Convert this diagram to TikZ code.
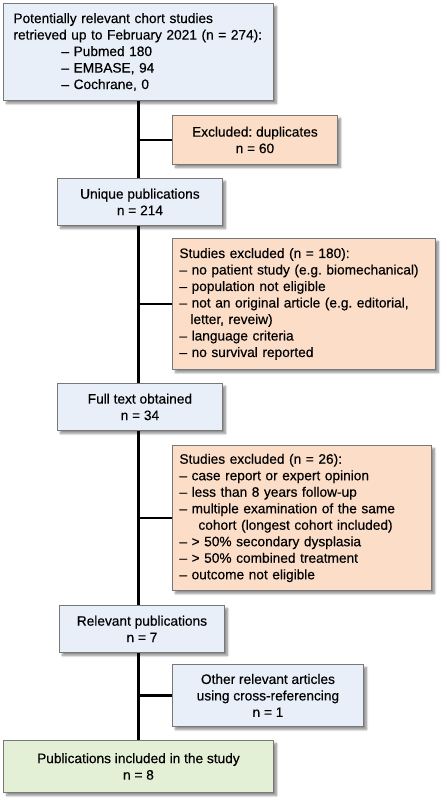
\documentclass[tikz,border=0pt]{standalone}
\usepackage{fontspec}
\setmainfont{Liberation Sans}[FakeBold=0.4]
\usetikzlibrary{positioning,calc,backgrounds,shadows.blur}
\definecolor{boxblue}{RGB}{232,239,248}
\definecolor{boxpeach}{RGB}{252,222,200}
\definecolor{boxgreen}{RGB}{228,240,214}
\definecolor{boxedge}{RGB}{120,120,120}

\tikzset{
  flowbox/.style={draw=boxedge, line width=0.9pt, anchor=north west, inner xsep=0pt, inner ysep=0pt,
    blur shadow={shadow xshift=3pt, shadow yshift=-3pt, shadow blur steps=6, shadow opacity=45},
    font=\fontsize{13.7}{16.5}\selectfont},
  bluebox/.style={flowbox, fill=boxblue, align=center},
  greenbox/.style={flowbox, fill=boxgreen, align=center},
  exclbox/.style={flowbox, fill=boxpeach, align=left},
  trunk/.style={line width=2.6pt, black},
}
\frenchspacing

\begin{document}
\begin{tikzpicture}[x=1pt, y=-1pt]
  \useasboundingbox (0,0) rectangle (447,800);
  % main boxes
  \node[bluebox, minimum width=270, minimum height=97, text width=250, align=left] (search) at (3,3)
    {Potentially relevant chort studies\\
     retrieved up to February 2021 (n = 274):\\
     \hspace*{48pt}– Pubmed 180\\
     \hspace*{48pt}– EMBASE, 94\\
     \hspace*{48pt}– Cochrane, 0};
  \node[bluebox, minimum width=165, minimum height=47] (unique) at (57,178)
    {Unique publications\\n = 214};
  \node[bluebox, minimum width=165, minimum height=47] (fulltext) at (57,383)
    {Full text obtained\\n = 34};
  \node[bluebox, minimum width=165, minimum height=47] (relevant) at (59,605)
    {Relevant publications\\n = 7};
  \node[greenbox, minimum width=270, minimum height=52] (final) at (3,740)
    {Publications included in the study\\n = 8};
  % side boxes
  \node[exclbox, minimum width=165, minimum height=49, align=center] (dupl) at (172,115)
    {Excluded: duplicates\\n = 60};
  \node[exclbox, minimum width=263, minimum height=131, text width=249] (excla) at (172,238)
    {Studies excluded (n = 180):\\
     – no patient study (e.g. biomechanical)\\
     – population not eligible\\
     – not an original article (e.g. editorial,\\
     \makebox[11pt][l]{}letter, reveiw)\\
     – language criteria\\
     – no survival reported};
  \node[exclbox, minimum width=259, minimum height=145, text width=245] (exclb) at (172,445)
    {Studies excluded (n = 26):\\
     – case report or expert opinion\\
     – less than 8 years follow-up\\
     – multiple examination of the same\\
     \makebox[19pt][l]{}cohort (longest cohort included)\\
     – > 50\% secondary dysplasia\\
     – > 50\% combined treatment\\
     – outcome not eligible};
  \node[bluebox, minimum width=191, minimum height=62] (crossref) at (172,664)
    {Other relevant articles\\using cross-referencing\\n = 1};
  % connectors
  \begin{scope}[on background layer]
    \draw[trunk] (search.south) -- (final.north);
    \foreach \side in {dupl,excla,exclb,crossref} {
      \draw[trunk] (\side.west) -- (\side.west -| search.south);
    }
  \end{scope}
\end{tikzpicture}
\end{document}
